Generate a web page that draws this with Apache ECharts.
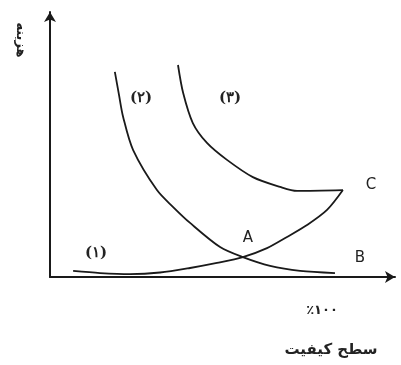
<!DOCTYPE html>
<html><head><meta charset="utf-8">
<script src="https://cdn.jsdelivr.net/npm/echarts@6/dist/echarts.min.js"></script>
<style>html,body{margin:0;padding:0;background:#fff}#c{width:401px;height:365px}</style>
</head><body><div id="c"></div>
<script>
// Curve (1): x, y (quality level, cost) in 0..100 units
var curve1 = [[6.7,2.3],[14.5,1.5],[23.2,1.1],[31.9,1.7],[40.6,3.4],[48.4,5.3],[55.9,7.5],[62.9,10.9],[68.7,15.1],[74.5,19.6],[80.3,25.3],[84.9,32.8]];
// Curve (2)
var curve2 = [[18.8,77.4],[20.0,68.7],[21.2,60.4],[24.1,47.9],[31.0,32.8],[35.7,26.4],[40.6,20.4],[49.3,11.3],[55.9,7.5],[63.8,4.2],[72.5,2.3],[82.6,1.5]];
// Curve (3)
var curve3 = [[37.1,80.0],[38.6,69.4],[41.4,58.1],[45.5,50.6],[51.3,44.2],[58.8,37.7],[66.7,34.0],[71.6,32.5],[84.9,32.8]];
var curveNames = ['(۱)','(۲)','(۳)'];
var pointNames = ['A','B','C'];
var xName = 'سطح کیفیت';
var yName = 'هزینه';
var xTickText = '٪۱۰۰';

var chart = echarts.init(document.getElementById('c'), null, {renderer:'canvas'});
var lineStyle = {color:'#1a1a1a', width:1.8};
function mk(d){return {type:'line', data:d, smooth:0.3, showSymbol:false, lineStyle:lineStyle, silent:true};}
var fontB = {fontFamily:'DejaVu Serif', fontWeight:'bold', fill:'#222'};
function txt(x,y,t,size,extra){
  var s = Object.assign({text:t, fontSize:size, textAlign:'center', textVerticalAlign:'middle'}, fontB, extra||{});
  return {type:'text', x:x, y:y, style:s};
}
chart.setOption({
  animation:false,
  grid:{left:50, top:12, width:345, height:265, containLabel:false},
  xAxis:{type:'value', min:0, max:100, axisLine:{show:true, lineStyle:{color:'#1a1a1a', width:2}, symbol:['none','arrow'], symbolSize:[9,10], symbolOffset:[0,0]}, axisTick:{show:false}, axisLabel:{show:false}, splitLine:{show:false}},
  yAxis:{type:'value', min:0, max:100, axisLine:{show:true, onZero:false, lineStyle:{color:'#1a1a1a', width:2}, symbol:['none','arrow'], symbolSize:[9,10]}, axisTick:{show:false}, axisLabel:{show:false}, splitLine:{show:false}},
  series:[mk(curve1), mk(curve2), mk(curve3)],
  graphic:[
    txt(96,253,curveNames[0],15),
    txt(141,98,curveNames[1],15),
    txt(230,98,curveNames[2],15),
    txt(248,238,pointNames[0],15,{fontFamily:'DejaVu Sans', fontWeight:'normal'}),
    txt(360,258,pointNames[1],15,{fontFamily:'DejaVu Sans', fontWeight:'normal'}),
    txt(371,185,pointNames[2],15,{fontFamily:'DejaVu Sans', fontWeight:'normal'}),
    txt(322,311,xTickText,13,{fontFamily:'DejaVu Sans'}),
    txt(331,350,xName,15,{fontFamily:'DejaVu Sans'}),
    {type:'text', x:20, y:40, rotation:-Math.PI/2, style:Object.assign({text:yName, fontSize:13, textAlign:'center', textVerticalAlign:'middle'}, fontB, {fontFamily:'DejaVu Sans'})}
  ]
});
</script></body></html>
